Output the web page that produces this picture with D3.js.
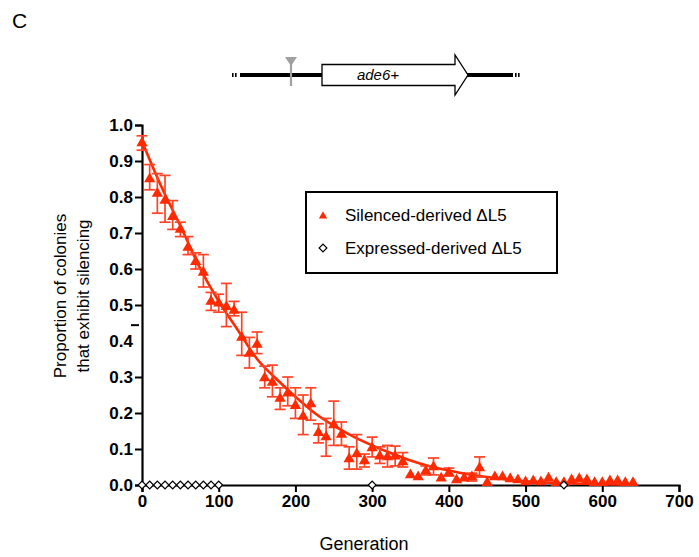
<!DOCTYPE html>
<html>
<head>
<meta charset="utf-8">
<script src="https://cdn.jsdelivr.net/npm/d3@7"></script>
<style>
  body { margin: 0; background: #fff; }
  svg { font-family: "Liberation Sans", Arial, sans-serif; }
</style>
</head>
<body>
<script>
// generations and proportion silenced (mean, lower, upper) for silenced-derived cells
const silGen = [0,10,20,30,40,50,60,70,80,90,100,110,120,130,140,150,160,170,180,190,200,
  210,220,230,240,250,260,270,280,290,300,310,320,330,340,350,360,370,380,390,400,
  410,420,430,440,450,460,470,480,490,500,510,520,530,540,550,560,570,580,590,600,610,620,630,640];
const silVal = [0.95,0.85,0.81,0.79,0.745,0.71,0.66,0.62,0.59,0.51,0.505,0.495,0.485,0.41,0.365,0.39,0.297,0.285,0.24,0.255,0.22,
  0.19,0.225,0.145,0.133,0.167,0.14,0.072,0.086,0.067,0.103,0.08,0.078,0.08,0.064,0.028,0.022,0.039,0.05,0.019,0.033,
  0.014,0.019,0.022,0.047,0.006,0.022,0.022,0.017,0.014,0.008,0.011,0.008,0.019,0.006,0.006,0.014,0.017,0.014,0.006,0.006,0.011,0.011,0.006,0.006];
const silLo = [0.93,0.82,0.755,0.73,0.71,0.69,0.64,0.60,0.55,0.485,0.48,0.44,0.47,0.36,0.325,0.365,0.27,0.245,0.21,0.22,0.185,
  0.14,0.18,0.117,0.08,0.11,0.11,0.044,0.044,0.05,0.078,0.06,0.05,0.053,0.05,0.028,0.022,0.028,0.028,0.019,0.025,
  0.014,0.019,0.011,0.022,0.006,0.022,0.022,0.017,0.014,0.008,0.011,0.008,0.019,0.006,0.006,0.014,0.017,0.014,0.006,0.006,0.011,0.011,0.006,0.006];
const silHi = [0.97,0.89,0.865,0.86,0.79,0.73,0.69,0.645,0.64,0.535,0.53,0.56,0.51,0.48,0.41,0.425,0.33,0.333,0.27,0.30,0.27,
  0.25,0.27,0.17,0.185,0.233,0.175,0.106,0.14,0.086,0.133,0.106,0.11,0.108,0.09,0.028,0.022,0.053,0.075,0.019,0.047,
  0.014,0.019,0.033,0.078,0.006,0.022,0.022,0.017,0.014,0.008,0.011,0.008,0.019,0.006,0.006,0.014,0.017,0.014,0.006,0.006,0.011,0.011,0.006,0.006];

// expressed-derived cells (all zero)
const expGen = [0,10,20,30,40,50,60,70,80,90,100,300,550];
const expVal = [0,0,0,0,0,0,0,0,0,0,0,0,0];

// fitted decay curve
const fitGen = [0,25,50,75,100,125,150,175,200,225,250,275,300,325,350,375,400,425,450,475,500,550,600,645];
const fitVal = [0.955,0.83,0.72,0.605,0.51,0.43,0.35,0.295,0.245,0.2,0.165,0.135,0.11,0.088,0.068,0.052,0.04,0.03,0.022,0.015,0.01,0.005,0.002,0.001];

const xTicks = [0,100,200,300,400,500,600,700];
const yTicks = [0,0.1,0.2,0.3,0.4,0.5,0.6,0.7,0.8,0.9,1.0];
const legendLabels = ["Silenced-derived \u0394L5", "Expressed-derived \u0394L5"];

const W = 699, H = 557;
const margin = {top: 125, left: 142, right: 20, bot: 72};
const red = "#ff2a00", barRed = "#ff4326";

const svg = d3.select("body").append("svg").attr("width", W).attr("height", H);

const x = d3.scaleLinear().domain([0, 700]).range([margin.left, 679]);
const y = d3.scaleLinear().domain([0, 1]).range([485, margin.top]);

// panel letter
svg.append("text").attr("x", 12).attr("y", 28).attr("font-size", 21).text("C");

// gene diagram
const dg = svg.append("g");
dg.append("line").attr("x1", 240).attr("x2", 513).attr("y1", 75).attr("y2", 75)
  .attr("stroke", "#000").attr("stroke-width", 4);
[232, 235, 515, 518].forEach(px => dg.append("rect").attr("x", px).attr("y", 73)
  .attr("width", 1.6).attr("height", 4).attr("fill", "#000"));
dg.append("line").attr("x1", 291).attr("x2", 291).attr("y1", 62).attr("y2", 86)
  .attr("stroke", "#a0a0a0").attr("stroke-width", 2.2);
dg.append("path").attr("d", "M285,57 L297,57 L291,66 Z").attr("fill", "#a0a0a0");
dg.append("path").attr("d", "M322,64.5 L455,64.5 L455,55 L468,75 L455,95 L455,85.5 L322,85.5 Z")
  .attr("fill", "#fff").attr("stroke", "#000").attr("stroke-width", 1.3);
dg.append("text").attr("x", 378).attr("y", 80).attr("text-anchor", "middle")
  .attr("font-size", 15).attr("font-style", "italic").text("ade6+");

// axes
const yAxis = d3.axisLeft(y).tickValues(yTicks).tickFormat(d3.format(".1f")).tickSizeOuter(0).tickSize(7);
const xAxis = d3.axisBottom(x).tickValues(xTicks).tickFormat(d3.format("d")).tickSizeOuter(0).tickSize(7);

const gy = svg.append("g").attr("transform", `translate(${margin.left},0)`).call(yAxis);
const gx = svg.append("g").attr("transform", `translate(0,${y(0)})`).call(xAxis);
[gx, gy].forEach(g => {
  g.select(".domain").attr("stroke", "#000").attr("stroke-width", 2.2);
  g.selectAll(".tick line").attr("stroke", "#000").attr("stroke-width", 2);
  g.selectAll(".tick text").attr("font-size", 17).attr("font-weight", "bold")
    .attr("fill", "#000").attr("font-family", "Liberation Sans, Arial, sans-serif");
});
gy.selectAll(".tick text").attr("x", -9);
gx.selectAll(".tick text").attr("y", 10);
// the 0.4 tick is drawn displaced in the original
gy.selectAll(".tick").filter(d => d === 0.4).select("line").remove();
svg.append("line").attr("x1", 131).attr("x2", 139).attr("y1", y(0.444)).attr("y2", y(0.444))
  .attr("stroke", "#000").attr("stroke-width", 2);

// axis titles
svg.append("text").attr("x", 364).attr("y", 550).attr("text-anchor", "middle")
  .attr("font-size", 18).text("Generation");
const yt = svg.append("text").attr("transform", "translate(66,296) rotate(-90)")
  .attr("text-anchor", "middle").attr("font-size", 17);
yt.append("tspan").attr("x", 0).attr("dy", 0).text("Proportion of colonies");
yt.append("tspan").attr("x", 0).attr("dy", 23).text("that exhibit silencing");

// fitted curve
const fit = fitGen.map((g, i) => ({g, v: fitVal[i]}));
svg.append("path").datum(fit)
  .attr("d", d3.line().x(d => x(d.g)).y(d => y(d.v)).curve(d3.curveMonotoneX))
  .attr("fill", "none").attr("stroke", red).attr("stroke-width", 2.6);

// silenced-derived points with error bars
const sil = silGen.map((g, i) => ({g, v: silVal[i], lo: silLo[i], hi: silHi[i]}));
const eb = svg.append("g").attr("stroke", barRed).attr("stroke-width", 1.7).attr("fill", "none");
const withErr = sil.filter(d => d.hi - d.lo > 0.001);
eb.selectAll(".v").data(withErr).enter().append("line")
  .attr("x1", d => x(d.g)).attr("x2", d => x(d.g))
  .attr("y1", d => y(d.lo)).attr("y2", d => y(d.hi));
eb.selectAll(".cap").data(withErr.flatMap(d => [{g: d.g, v: d.lo}, {g: d.g, v: d.hi}])).enter().append("line")
  .attr("x1", d => x(d.g) - 5.5).attr("x2", d => x(d.g) + 5.5)
  .attr("y1", d => y(d.v)).attr("y2", d => y(d.v));

const tri = d3.symbol().type(d3.symbolTriangle).size(55);
svg.append("g").selectAll("path").data(sil).enter().append("path")
  .attr("d", tri).attr("transform", d => `translate(${x(d.g)},${y(d.v)})`)
  .attr("fill", red);

// expressed-derived points
const dia = d3.symbol().type(d3.symbolSquare).size(30);
const exp = expGen.map((g, i) => ({g, v: expVal[i]}));
svg.append("g").selectAll("path").data(exp).enter().append("path")
  .attr("d", dia).attr("transform", d => `translate(${x(d.g)},${y(d.v)}) rotate(45)`)
  .attr("fill", "#fff").attr("stroke", "#000").attr("stroke-width", 1.2);

// legend
const lg = svg.append("g");
lg.append("rect").attr("x", 306).attr("y", 192).attr("width", 251).attr("height", 81)
  .attr("fill", "#fff").attr("stroke", "#000").attr("stroke-width", 2);
lg.append("path").attr("d", d3.symbol().type(d3.symbolTriangle).size(30))
  .attr("transform", "translate(323,216)").attr("fill", red);
lg.append("path").attr("d", dia).attr("transform", "translate(323,248) rotate(45)")
  .attr("fill", "#fff").attr("stroke", "#000").attr("stroke-width", 1.2);
lg.selectAll("text.l").data(legendLabels).enter().append("text")
  .attr("x", 345).attr("y", (d, i) => 221 + i * 33)
  .attr("font-size", 17).text(d => d);
</script>
</body>
</html>
